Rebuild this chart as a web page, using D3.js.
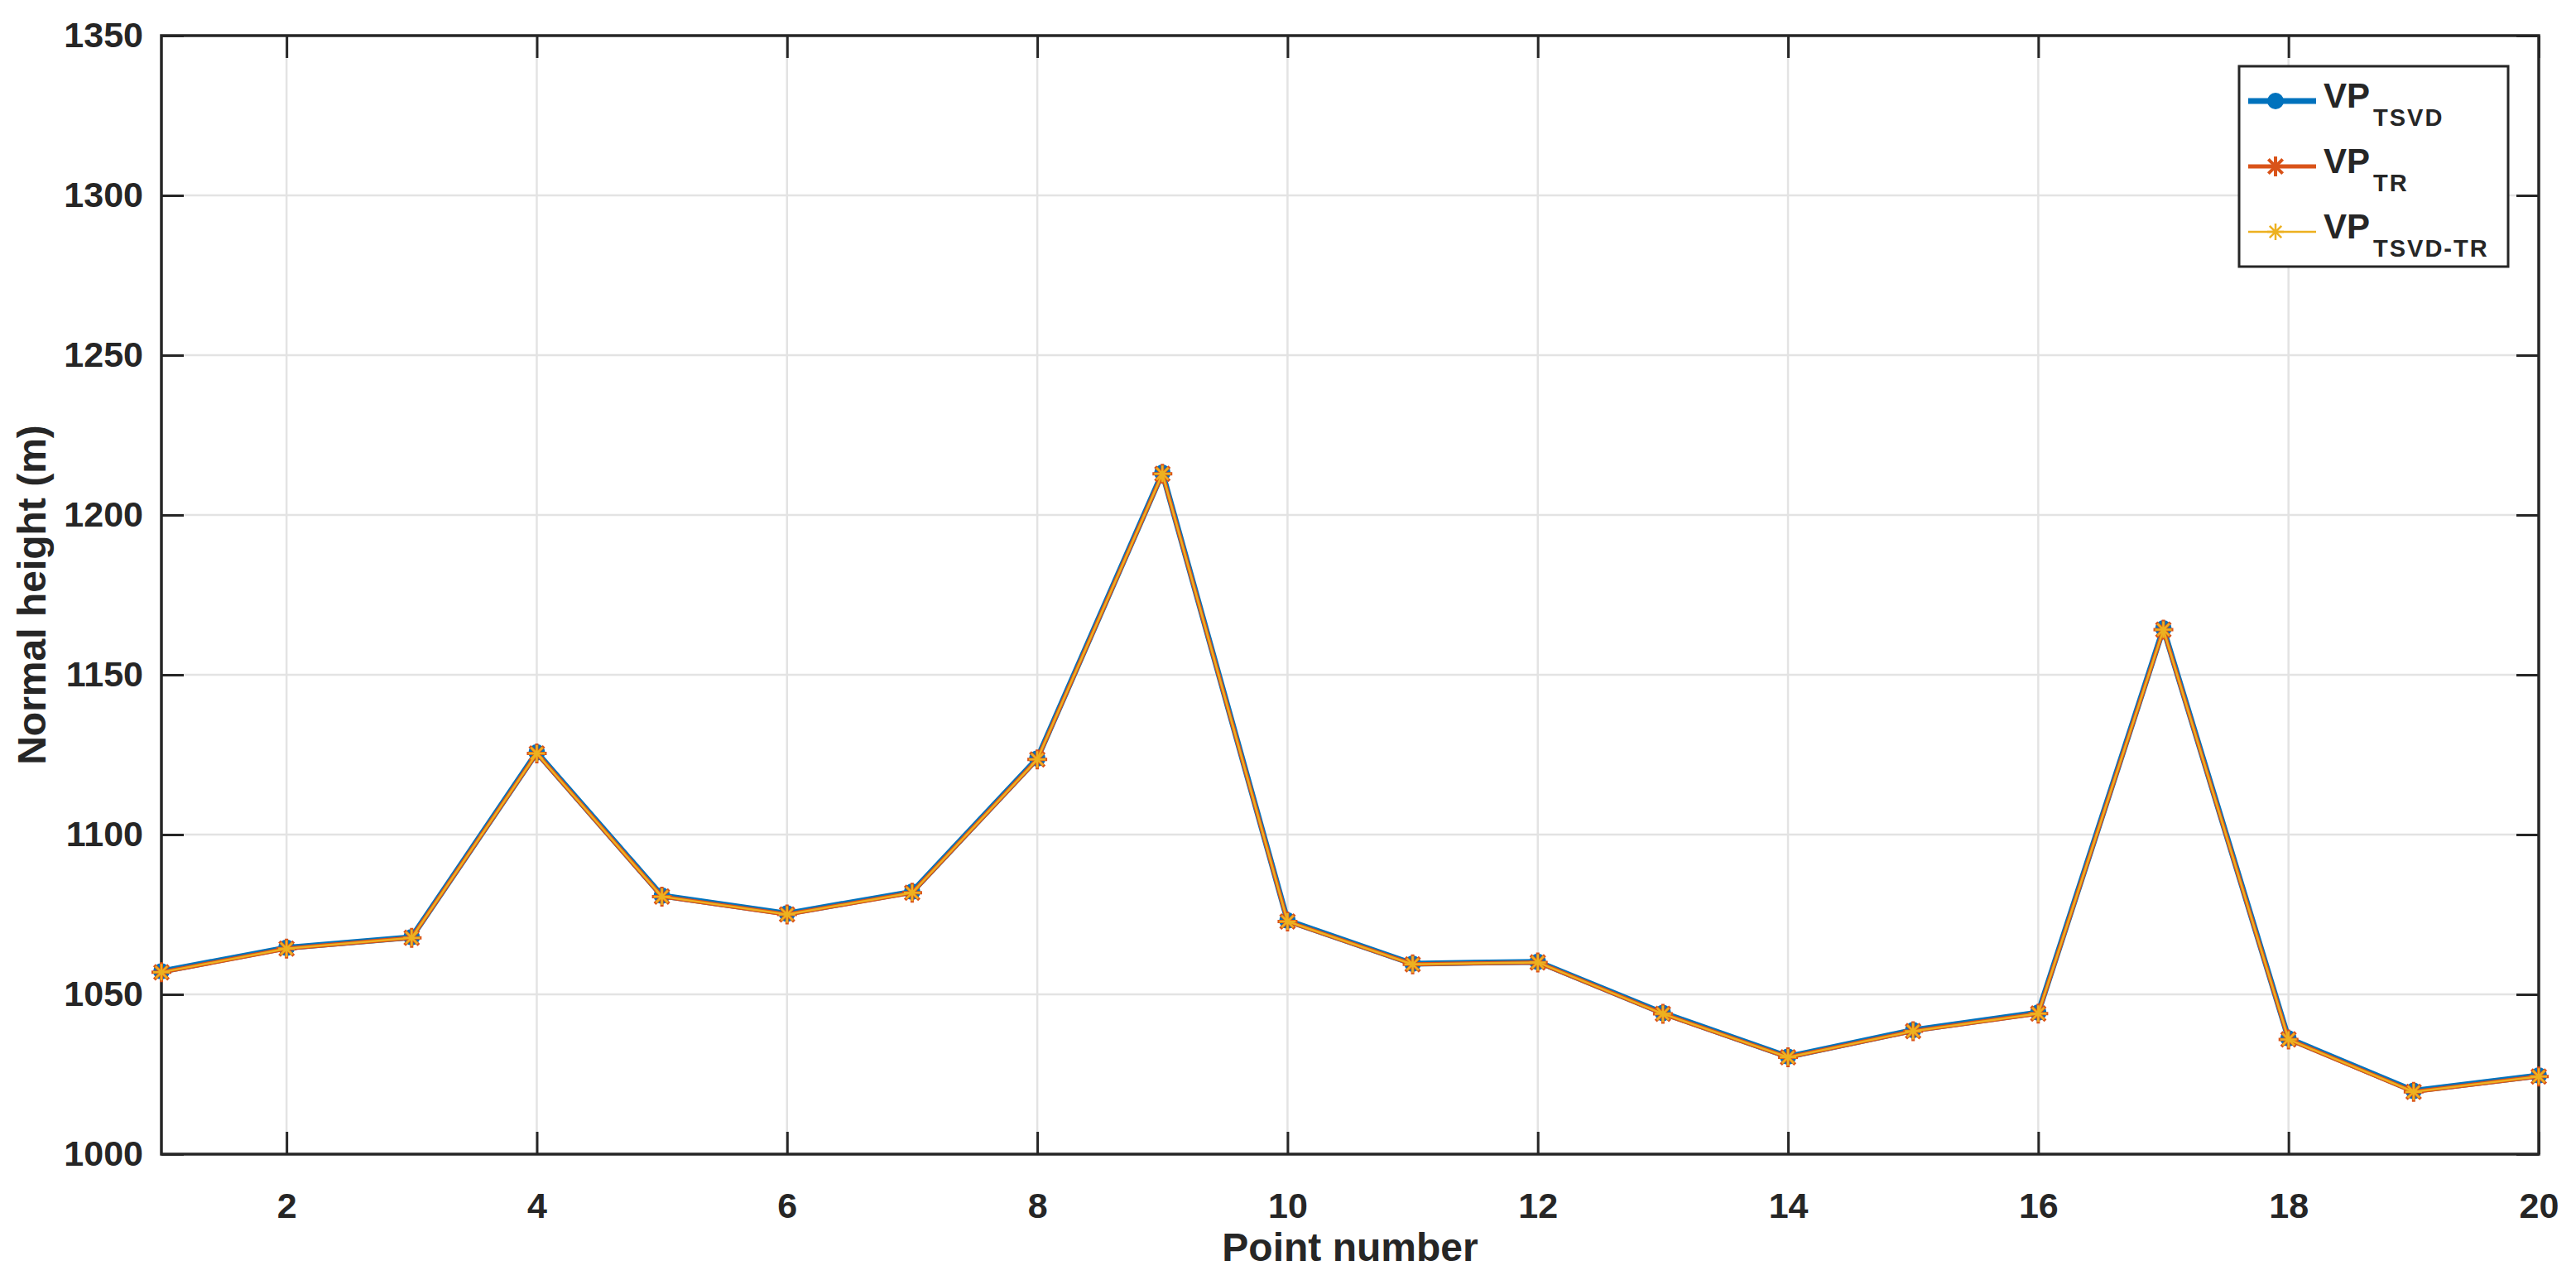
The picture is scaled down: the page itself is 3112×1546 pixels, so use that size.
<!DOCTYPE html>
<html>
<head>
<meta charset="utf-8">
<script src="https://cdn.jsdelivr.net/npm/d3@7"></script>
<style>
  body { margin: 0; background: #fff; }
  text { font-family: "Liberation Sans", Arial, sans-serif; font-weight: bold; fill: #262626; }
</style>
</head>
<body>
<svg id="chart"></svg>
<script>
// data
const points = d3.range(1, 21)
const vpTSVD = [1057.2, 1064.6, 1067.9, 1125.7, 1080.9, 1075.3, 1082.1, 1123.8, 1213.2, 1073.1,
  1059.6, 1060.2, 1044.2, 1030.5, 1038.8, 1044.3, 1164.5, 1036.2, 1019.8, 1024.6]
const vpTR = [1056.9, 1064.3, 1067.7, 1125.4, 1080.6, 1075.0, 1081.8, 1123.5, 1212.9, 1072.8,
  1059.4, 1060.0, 1043.9, 1030.3, 1038.5, 1044.0, 1164.1, 1035.9, 1019.5, 1024.3]
const vpTSVDTR = [1056.9, 1064.3, 1067.7, 1125.4, 1080.6, 1075.0, 1081.8, 1123.5, 1212.9, 1072.8,
  1059.4, 1060.0, 1043.9, 1030.3, 1038.5, 1044.0, 1164.1, 1035.9, 1019.5, 1024.3]
const seriesNames = ['TSVD', 'TR', 'TSVD-TR']
const xTicks = [2, 4, 6, 8, 10, 12, 14, 16, 18, 20]
const yTicks = [1000, 1050, 1100, 1150, 1200, 1250, 1300, 1350]

// constants
const width = 3112
const height = 1546
const margin = { left: 195, right: 45, top: 43, bottom: 152 }
const visWidth = width - margin.left - margin.right
const visHeight = height - margin.top - margin.bottom
const axisColor = '#262626'
const tickLen = 27

const svg = d3.select('svg#chart').attr('width', width).attr('height', height)
const g = svg.append('g').attr('transform', 'translate(' + margin.left + ', ' + margin.top + ')')

const x = d3.scaleLinear().domain([1, 20]).range([0, visWidth])
const y = d3.scaleLinear().domain([1000, 1350]).range([visHeight, 0])

// grid
const grid = g.append('g')
grid.selectAll('line.gx').data(xTicks).enter().append('line')
  .attr('x1', d => x(d)).attr('x2', d => x(d)).attr('y1', 0).attr('y2', visHeight)
  .attr('stroke', '#e3e3e3').attr('stroke-width', 2.5)
grid.selectAll('line.gy').data(yTicks).enter().append('line')
  .attr('x1', 0).attr('x2', visWidth).attr('y1', d => y(d)).attr('y2', d => y(d))
  .attr('stroke', '#e3e3e3').attr('stroke-width', 2.5)

// axes (ticks pointing inside, mirrored on all sides)
const styleAxis = (sel) => {
  sel.select('.domain').remove()
  sel.selectAll('.tick line').attr('stroke', axisColor).attr('stroke-width', 3)
  sel.selectAll('.tick text').attr('fill', axisColor).style('font-size', '43px')
}
g.append('g').attr('transform', 'translate(0,' + visHeight + ')')
  .call(d3.axisBottom(x).tickValues(xTicks).tickSize(-tickLen).tickPadding(46).tickFormat(d3.format('d')))
  .call(styleAxis)
g.append('g')
  .call(d3.axisLeft(y).tickValues(yTicks).tickSize(-tickLen).tickPadding(22).tickFormat(d3.format('d')))
  .call(styleAxis)
g.append('g')
  .call(d3.axisTop(x).tickValues(xTicks).tickSize(-tickLen).tickFormat(''))
  .call(styleAxis)
g.append('g').attr('transform', 'translate(' + visWidth + ',0)')
  .call(d3.axisRight(y).tickValues(yTicks).tickSize(-tickLen).tickFormat(''))
  .call(styleAxis)

g.append('rect').attr('width', visWidth).attr('height', visHeight)
  .attr('fill', 'none').attr('stroke', axisColor).attr('stroke-width', 3.5)

// axis labels
g.append('text').attr('x', visWidth / 2).attr('y', visHeight + 129)
  .attr('text-anchor', 'middle').style('font-size', '48px').text('Point number')
g.append('text').attr('transform', 'translate(' + (-140) + ',' + (visHeight / 2) + ') rotate(-90)')
  .attr('text-anchor', 'middle').style('font-size', '48px').text('Normal height (m)')

// series
const asterisk = (s) => 'M' + (-s) + ',0H' + s + 'M0,' + (-s) + 'V' + s +
  'M' + (-s * 0.72) + ',' + (-s * 0.72) + 'L' + (s * 0.72) + ',' + (s * 0.72) +
  'M' + (-s * 0.72) + ',' + (s * 0.72) + 'L' + (s * 0.72) + ',' + (-s * 0.72)

const series = [
  { name: seriesNames[0], values: vpTSVD, color: '#0072BD', lw: 7, marker: 'circle', size: 10 },
  { name: seriesNames[1], values: vpTR, color: '#D95319', lw: 5, marker: 'star', size: 12, sw: 4 },
  { name: seriesNames[2], values: vpTSVDTR, color: '#EDB120', lw: 2.5, marker: 'star', size: 10, sw: 2.5 }
]

const line = d3.line().x(d => x(d[0])).y(d => y(d[1]))
const drawMarker = (sel, s) => {
  if (s.marker === 'circle') {
    sel.append('circle').attr('r', s.size).attr('fill', s.color)
  } else {
    sel.append('path').attr('d', asterisk(s.size)).attr('stroke', s.color)
      .attr('stroke-width', s.sw).attr('fill', 'none')
  }
}

series.forEach(s => {
  const pts = points.map((p, i) => [p, s.values[i]])
  const sg = g.append('g')
  sg.append('path').datum(pts).attr('d', line).attr('fill', 'none')
    .attr('stroke', s.color).attr('stroke-width', s.lw).attr('stroke-linejoin', 'round')
  sg.selectAll('g.m').data(pts).enter().append('g')
    .attr('transform', d => 'translate(' + x(d[0]) + ',' + y(d[1]) + ')')
    .each(function () { drawMarker(d3.select(this), s) })
})

// legend
const legend = svg.append('g').attr('transform', 'translate(2705,80)')
legend.append('rect').attr('width', 325).attr('height', 242)
  .attr('fill', '#fff').attr('stroke', axisColor).attr('stroke-width', 3)
series.forEach((s, i) => {
  const row = legend.append('g').attr('transform', 'translate(0,' + (42 + i * 79) + ')')
  row.append('line').attr('x1', 11).attr('x2', 93).attr('stroke', s.color).attr('stroke-width', s.lw)
  drawMarker(row.append('g').attr('transform', 'translate(44,0)'), s)
  const t = row.append('text').attr('x', 102).attr('y', 8).style('font-size', '42px').attr('fill', '#000')
  t.append('tspan').text('VP')
  t.append('tspan').attr('dy', 22).attr('dx', 4).style('font-size', '29px')
    .style('letter-spacing', '2px').text(s.name)
})
</script>
</body>
</html>
